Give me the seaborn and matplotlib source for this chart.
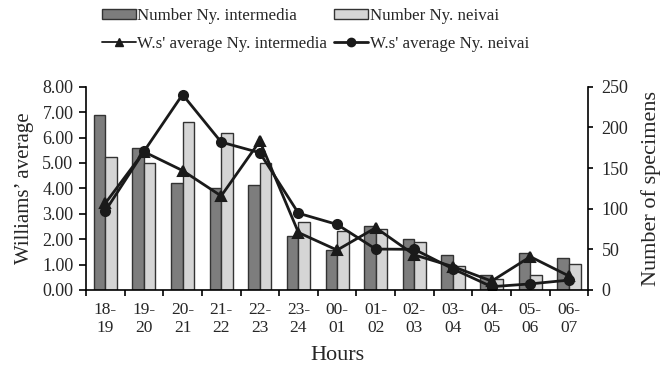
import numpy as np
import pandas as pd
import matplotlib
matplotlib.use("Agg")
import matplotlib.pyplot as plt
import seaborn as sns
from matplotlib.patches import Patch
from matplotlib.lines import Line2D

# ---- data ----
hours = ["18-\n19", "19-\n20", "20-\n21", "21-\n22", "22-\n23", "23-\n24", "00-\n01",
         "01-\n02", "02-\n03", "03-\n04", "04-\n05", "05-\n06", "06-\n07"]
number_intermedia = [215, 174, 132, 125, 129, 67, 49, 79, 63, 43, 18, 46, 39]
number_neivai = [163, 156, 206, 193, 156, 83, 72, 75, 59, 29, 13, 18, 32]
ws_intermedia = [3.41, 5.44, 4.70, 3.70, 5.86, 2.26, 1.57, 2.45, 1.38, 0.92, 0.35, 1.31, 0.55]
ws_neivai = [3.11, 5.45, 7.69, 5.82, 5.40, 3.02, 2.58, 1.61, 1.60, 0.83, 0.13, 0.24, 0.39]

lab_ni = "Number Ny. intermedia"
lab_nn = "Number Ny. neivai"
lab_wi = "W.s' average Ny. intermedia"
lab_wn = "W.s' average Ny. neivai"

bars = pd.DataFrame({
    "hour": hours * 2,
    "count": number_intermedia + number_neivai,
    "series": [lab_ni] * len(hours) + [lab_nn] * len(hours),
})
lines = pd.DataFrame({
    "hour": hours * 2,
    "ws": ws_intermedia + ws_neivai,
    "series": [lab_wi] * len(hours) + [lab_wn] * len(hours),
})

sns.set_theme(style="ticks")
plt.rcParams["font.family"] = ["Liberation Serif", "DejaVu Serif"]
plt.rcParams["axes.linewidth"] = 1.2

dark = "#7d7d7d"
light = "#d5d5d5"
edge = "#333333"
lc = "#1a1a1a"

fig = plt.figure(figsize=(6.61, 3.65), dpi=100)
ax = fig.add_axes([0.130, 0.2055, 0.760, 0.557])
ax2 = ax.twinx()

sns.barplot(data=bars, x="hour", y="count", hue="series", order=hours,
            palette=[dark, light], width=0.6, gap=0, edgecolor=edge,
            linewidth=1.0, ax=ax2, legend=False, errorbar=None)
sns.pointplot(data=lines, x="hour", y="ws", hue="series", order=hours,
              palette=[lc, lc], markers=["^", "o"], linestyles=["-", "-"],
              dodge=False, markersize=6.5, linewidth=2.0, ax=ax, legend=False,
              errorbar=None)

ax.set_zorder(ax2.get_zorder() + 1)
ax.patch.set_visible(False)

ax.set_ylim(0, 8)
ax2.set_ylim(0, 250)
ax.set_xlim(-0.5, len(hours) - 0.5)
ax.set_yticks(np.arange(0, 8.01, 1))
ax.set_yticklabels([f"{v:.2f}" for v in np.arange(0, 8.01, 1)])
ax2.set_yticks(np.arange(0, 251, 50))

ax.set_xticks(np.arange(len(hours)))
ax.set_xticklabels(hours, linespacing=1.15)
ax.set_xticks(np.arange(-0.5, len(hours), 1), minor=True)
ax.tick_params(axis="x", which="major", length=0, pad=9, labelsize=12.5)
ax.tick_params(axis="x", which="minor", length=4, width=1.2, direction="out", color="black")
ax.tick_params(axis="y", length=5, width=1.2, direction="out", labelsize=13, pad=4, color="black")
ax2.tick_params(axis="y", length=3.6, width=1.2, direction="out", labelsize=13, pad=6, color="black")
ax2.tick_params(axis="x", length=0)

for a in (ax, ax2):
    a.spines["top"].set_visible(False)
    for s in ("left", "right", "bottom"):
        a.spines[s].set_color("black")
ax.spines["right"].set_visible(False)
ax2.spines["left"].set_visible(False)
ax2.spines["bottom"].set_visible(False)

ax.set_xlabel("Hours", fontsize=16, labelpad=7)
ax.set_ylabel("Williams\u2019 average", fontsize=15, labelpad=6)
ax2.set_ylabel("Number of specimens", fontsize=16, labelpad=9)

handles = [
    Patch(facecolor=dark, edgecolor=edge, linewidth=1.0),
    Line2D([], [], color=lc, lw=1.3, marker="^", markersize=6),
    Patch(facecolor=light, edgecolor=edge, linewidth=1.0),
    Line2D([], [], color=lc, lw=2.0, marker="o", markersize=6),
]
labels = [lab_ni, lab_wi, lab_nn, lab_wn]
fig.legend(handles, labels, ncol=2, loc="upper left",
           bbox_to_anchor=(0.154, 0.978), frameon=False, fontsize=12.2,
           borderpad=0, borderaxespad=0, handlelength=2.0, handletextpad=0.1,
           columnspacing=0.4, labelspacing=0.7, handleheight=0.6)

fig.savefig("out.png", dpi=100)
